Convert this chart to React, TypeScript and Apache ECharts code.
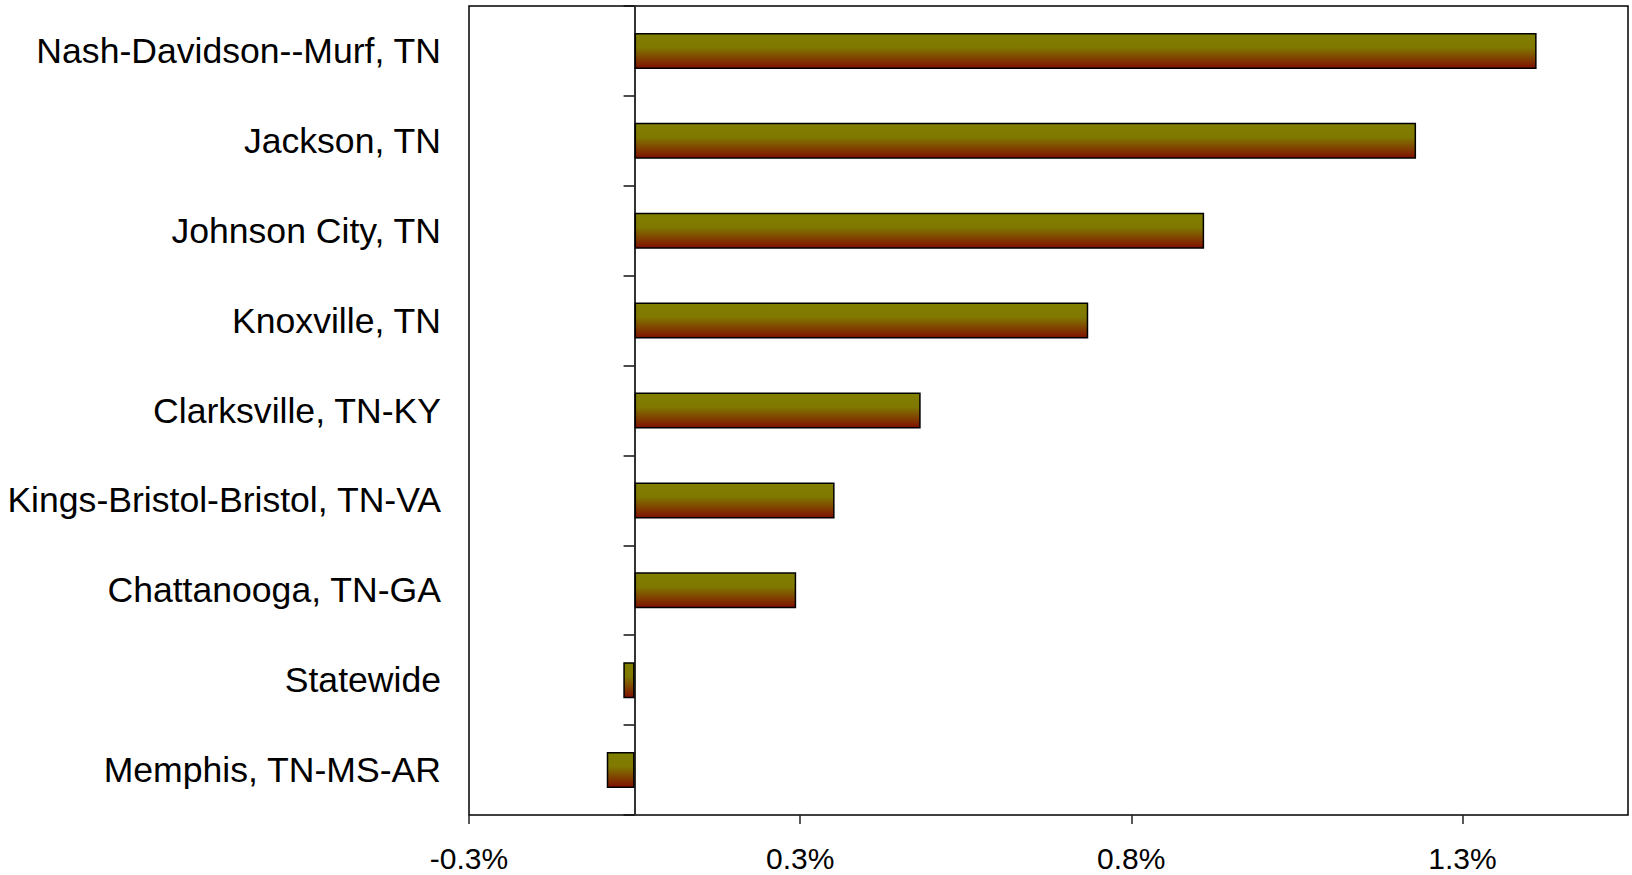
import React, { useEffect, useRef } from "react";
import * as echarts from "echarts";

const categories = [
  "Nash-Davidson--Murf, TN",
  "Jackson, TN",
  "Johnson City, TN",
  "Knoxville, TN",
  "Clarksville, TN-KY",
  "Kings-Bristol-Bristol, TN-VA",
  "Chattanooga, TN-GA",
  "Statewide",
  "Memphis, TN-MS-AR",
];
const values = [1.362, 1.18, 0.86, 0.685, 0.432, 0.302, 0.244, -0.017, -0.042];
const tickValues = [-0.25, 0.25, 0.75, 1.25];
const tickLabels = ["-0.3%", "0.3%", "0.8%", "1.3%"];

const FONT = "'Liberation Sans', Arial, Helvetica, sans-serif";

export default function App() {
  const ref = useRef<HTMLDivElement>(null);
  useEffect(() => {
    if (!ref.current) return;
    const chart = echarts.init(ref.current, null, { renderer: "svg" });
    chart.setOption({
      animation: false,
      backgroundColor: "#ffffff",
      grid: {
        left: 469,
        right: 4,
        top: 6,
        bottom: 60,
        show: true,
        borderColor: "#000000",
        borderWidth: 1.5,
        backgroundColor: "transparent",
        outerBoundsMode: "none",
        containLabel: false,
      },
      xAxis: {
        type: "value",
        min: -0.25,
        max: 1.5,
        position: "bottom",
        axisLine: { show: false, onZero: false },
        splitLine: { show: false },
        axisTick: {
          show: true,
          length: 9,
          customValues: tickValues,
          lineStyle: { color: "#222", width: 1.5 },
        },
        axisLabel: {
          show: true,
          customValues: tickValues,
          margin: 28,
          fontSize: 30,
          color: "#000",
          fontFamily: FONT,
          formatter: (v: number) => {
            const i = tickValues.findIndex((t) => Math.abs(t - v) < 1e-9);
            return i >= 0 ? tickLabels[i] : "";
          },
        },
      },
      yAxis: [
        {
          type: "category",
          data: categories,
          inverse: true,
          position: "left",
          axisLine: { show: false, onZero: false },
          axisTick: { show: false },
          splitLine: { show: false },
          axisLabel: {
            margin: 28,
            fontSize: 35.6,
            color: "#000",
            fontFamily: FONT,
          },
        },
        {
          type: "category",
          data: categories,
          inverse: true,
          position: "left",
          axisLine: { show: true, onZero: true, lineStyle: { color: "#333", width: 2 } },
          axisTick: { show: true, length: 11, lineStyle: { color: "#111", width: 1.5 } },
          splitLine: { show: false },
          axisLabel: { show: false },
        },
      ],
      series: [
        {
          type: "bar",
          yAxisIndex: 0,
          data: values,
          barWidth: 36,
          itemStyle: {
            color: new echarts.graphic.LinearGradient(0, 0, 0, 1, [
              { offset: 0, color: "#808000" },
              { offset: 0.4, color: "#807800" },
              { offset: 1, color: "#801000" },
            ]),
            borderColor: "#000000",
            borderWidth: 1.5,
          },
        },
      ],
    });
    return () => chart.dispose();
  }, []);
  return (
    <div
      ref={ref}
      style={{ position: "absolute", left: 0, top: 0, width: 1632, height: 875 }}
    />
  );
}
